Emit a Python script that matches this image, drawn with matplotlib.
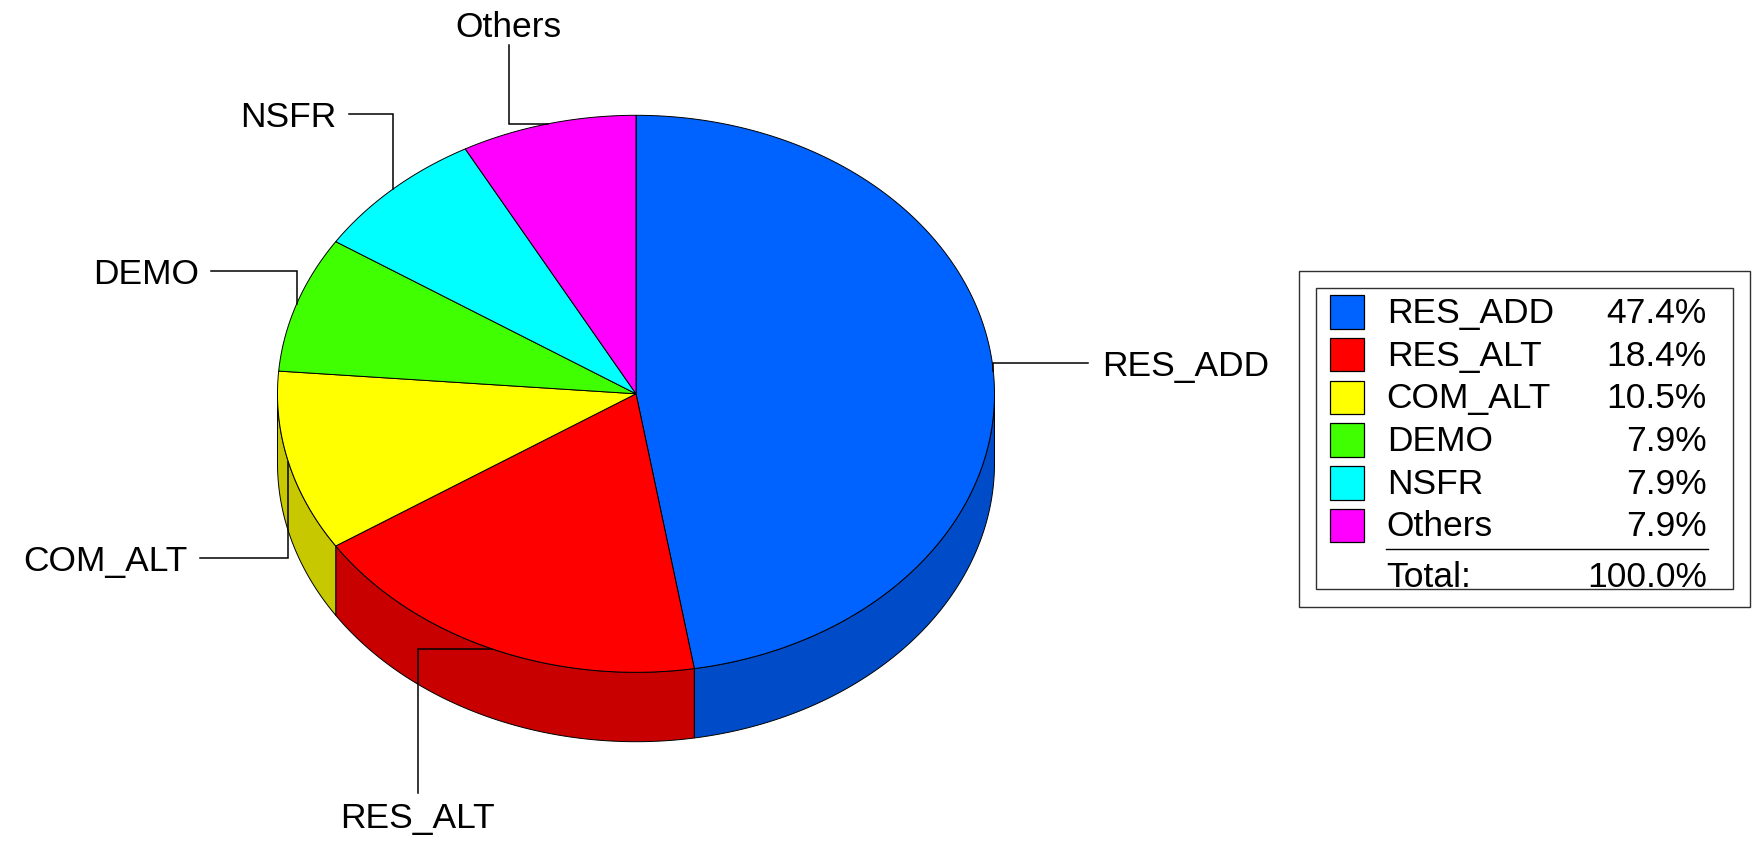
import numpy as np
import matplotlib
matplotlib.use("Agg")
import matplotlib.pyplot as plt
from matplotlib.patches import Polygon, Rectangle

# ---- data ----
categories = ["RES_ADD", "RES_ALT", "COM_ALT", "DEMO", "NSFR", "Others"]
percents = [47.4, 18.4, 10.5, 7.9, 7.9, 7.9]
top_colors = ["#0062FF", "#FF0000", "#FFFF00", "#40FF00", "#00FFFF", "#FF00FF"]
side_colors = ["#004CC8", "#C80000", "#C8C800", "#32C800", "#00C8C8", "#C800C8"]

plt.rcParams['font.family'] = ['Liberation Sans', 'DejaVu Sans']

W, H = 1754, 842
fig = plt.figure(figsize=(W / 100, H / 100), dpi=100)
ax = fig.add_axes([0, 0, 1, 1])
ax.set_xlim(0, W)
ax.set_ylim(H, 0)
ax.axis('off')

cx, cy, a, b, depth = 636.0, 393.8, 358.5, 278.5, 69.4
EDGE = 0.7


def pt(theta_deg, dz=0.0):
    t = np.radians(theta_deg)
    return cx + a * np.cos(t), cy - b * np.sin(t) + dz


def arc(t1, t2, dz=0.0, n=200):
    ts = np.linspace(t1, t2, n)
    return np.array([pt(t, dz) for t in ts])


vals = np.array(percents, dtype=float)
frac = vals / vals.sum()
cum = np.concatenate([[0], np.cumsum(frac)])
starts = 90 - 360 * cum[:-1]
ends = 90 - 360 * cum[1:]
mids = (starts + ends) / 2

# ---- side walls (front half: -180..0 degrees) ----
for i in range(len(vals)):
    hi, lo = starts[i], ends[i]
    for k in (-1, 0, 1):
        h2, l2 = hi + 360 * k, lo + 360 * k
        s_hi = min(h2, 0.0)
        s_lo = max(l2, -180.0)
        if s_hi > s_lo + 1e-9:
            top = arc(s_hi, s_lo)
            bot = arc(s_lo, s_hi, dz=depth)
            poly = np.vstack([top, bot])
            ax.add_patch(Polygon(poly, closed=True, facecolor=side_colors[i],
                                 edgecolor='black', lw=EDGE, zorder=1))

# ---- top wedges ----
for i in range(len(vals)):
    pts = np.vstack([[cx, cy], arc(starts[i], ends[i])])
    ax.add_patch(Polygon(pts, closed=True, facecolor=top_colors[i],
                         edgecolor='black', lw=EDGE, zorder=2))

# ---- labels with elbow leaders ----
FS = 25.5
LW = 1.1
label_pos = {
    "RES_ADD": (1101.7, 363.3, 'left', 'h', 1088),
    "RES_ALT": (417.5, 815, 'center', 'v_up', 793),
    "COM_ALT": (188, 558, 'right', 'h', 200),
    "DEMO": (199, 270.7, 'right', 'h', 211),
    "NSFR": (336, 114, 'right', 'h', 349),
    "Others": (508.8, 24, 'center', 'v_down', 45),
}
for i, name in enumerate(categories):
    tx, ty, ha, mode, lstart = label_pos[name]
    ex, ey = pt(mids[i])
    ax.text(tx, ty, name, fontsize=FS, ha=ha, va='center_baseline', zorder=5)
    if mode == 'h':
        xs, ys = [lstart, ex, ex], [ty, ty, ey]
    else:
        xs, ys = [tx, tx, ex], [lstart, ey, ey]
    ax.plot(xs, ys, color='black', lw=LW, zorder=4, solid_joinstyle='miter')

# ---- legend ----
LFS = 25.5
ax.add_patch(Rectangle((1299, 270.5), 451, 336, facecolor='white',
                       edgecolor='#303030', lw=1.0, zorder=3))
ax.add_patch(Rectangle((1316.3, 287.7), 417, 301.6, facecolor='none',
                       edgecolor='#303030', lw=1.0, zorder=3))
row0, dy = 312.0, 42.7
for i, name in enumerate(categories):
    yc = row0 + i * dy
    ax.add_patch(Rectangle((1330.3, yc - 16.7), 33.4, 33.4,
                           facecolor=top_colors[i], edgecolor='black', lw=0.9,
                           zorder=4))
    ax.text(1386.7, yc - 2, name, fontsize=LFS, ha='left', va='center_baseline', zorder=5)
    ax.text(1706.7, yc - 2, f"{percents[i]:.1f}%", fontsize=LFS, ha='right',
            va='center_baseline', zorder=5)
ax.plot([1385.7, 1707.7], [549.3, 549.3], color='black', lw=1.0, zorder=5)
ytot = 574.0
ax.text(1386.7, ytot, "Total:", fontsize=LFS, ha='left', va='center_baseline', zorder=5)
ax.text(1706.7, ytot, f"{vals.sum():.1f}%", fontsize=LFS, ha='right',
        va='center_baseline', zorder=5)

fig.savefig("out.png", dpi=100, facecolor='white')
